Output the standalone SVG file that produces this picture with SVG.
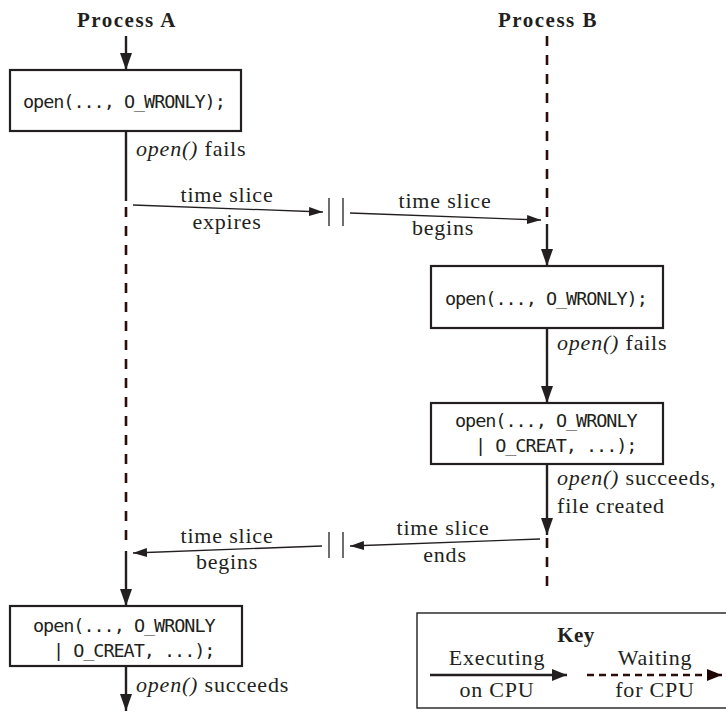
<svg xmlns="http://www.w3.org/2000/svg" width="726" height="712" viewBox="0 0 726 712">
  <defs>
    <marker id="headDown" markerUnits="userSpaceOnUse" markerWidth="17" markerHeight="12" refX="17" refY="6" orient="auto" viewBox="0 0 17 12">
      <path d="M0,0 L17,6 L0,12 z" fill="#231f20"/>
    </marker>
    <marker id="thin" markerUnits="userSpaceOnUse" markerWidth="14" markerHeight="9" refX="14" refY="4.5" orient="auto" viewBox="0 0 14 9">
      <path d="M0,0 L14,4.5 L0,9 z" fill="#231f20"/>
    </marker>
    <marker id="keyHead" markerUnits="userSpaceOnUse" markerWidth="15" markerHeight="12" refX="15" refY="6" orient="auto" viewBox="0 0 15 12">
      <path d="M0,0 L15,6 L0,12 z" fill="#231f20"/>
    </marker>
    <marker id="keyHeadDash" markerUnits="userSpaceOnUse" markerWidth="15" markerHeight="12" refX="15" refY="6" orient="auto" viewBox="0 0 15 12">
      <path d="M0,0 L15,6 L0,12 z" fill="#1e0505"/>
    </marker>
  </defs>
  <style>
    .serif { font-family: "Liberation Serif", "Times New Roman", serif; font-size: 22px; fill: #231f20; letter-spacing: 0.8px; }
    .title { font-family: "Liberation Serif", "Times New Roman", serif; font-size: 21px; font-weight: bold; fill: #231f20; letter-spacing: 1.5px; }
    .mono { font-family: "DejaVu Sans Mono", "Liberation Mono", monospace; font-size: 18.5px; fill: #231f20; letter-spacing: -1.05px; }
    .it { font-style: italic; }
    .box { fill: #ffffff; stroke: #231f20; stroke-width: 2.2; }
    .exec { fill: none; stroke: #231f20; stroke-width: 2.4; }
    .wait { fill: none; stroke: #2d0c0c; stroke-width: 2.6; stroke-dasharray: 10 9; }
    .slice { fill: none; stroke: #231f20; stroke-width: 1.3; }
    .bar { fill: none; stroke: #231f20; stroke-width: 1.3; }
  </style>

  <!-- Titles -->
  <g id="title-a"><text class="title" x="127" y="27" text-anchor="middle">Process A</text></g>
  <g id="title-b"><text class="title" x="548" y="27" text-anchor="middle">Process B</text></g>

  <!-- Connectors -->
  <g id="connectors">
    <!-- Process A -->
    <line class="exec" x1="126" y1="36" x2="126" y2="70" marker-end="url(#headDown)"/>
    <line class="exec" x1="126" y1="131" x2="126" y2="201"/>
    <line class="wait" x1="126" y1="207" x2="126" y2="548"/>
    <line class="exec" x1="126" y1="551" x2="126" y2="606" marker-end="url(#headDown)"/>
    <line class="exec" x1="126" y1="666" x2="126" y2="711" marker-end="url(#headDown)"/>

    <!-- Process B -->
    <line class="wait" x1="547" y1="36" x2="547" y2="218"/>
    <line class="exec" x1="547" y1="224" x2="547" y2="266" marker-end="url(#headDown)"/>
    <line class="exec" x1="547" y1="328" x2="547" y2="403" marker-end="url(#headDown)"/>
    <line class="exec" x1="547" y1="464" x2="547" y2="535" marker-end="url(#headDown)"/>
    <line class="wait" x1="547" y1="538" x2="547" y2="586"/>

    <!-- time slice expires / begins (A to B) -->
    <line class="slice" x1="133" y1="205" x2="323" y2="212" marker-end="url(#thin)"/>
    <line class="bar" x1="329" y1="198" x2="329" y2="226"/>
    <line class="bar" x1="343" y1="198" x2="343" y2="226"/>
    <line class="slice" x1="350" y1="213" x2="541" y2="220" marker-end="url(#thin)"/>

    <!-- time slice ends / begins (B to A) -->
    <line class="slice" x1="540" y1="539" x2="350" y2="546" marker-end="url(#thin)"/>
    <line class="bar" x1="329" y1="532" x2="329" y2="558"/>
    <line class="bar" x1="343" y1="532" x2="343" y2="558"/>
    <line class="slice" x1="322" y1="546" x2="133" y2="553" marker-end="url(#thin)"/>
  </g>

  <!-- Node boxes -->
  <g id="a-open1">
    <rect class="box" x="10" y="70" width="231" height="61"/>
    <text class="mono" x="23" y="108">open(..., O_WRONLY);</text>
  </g>
  <g id="b-open1">
    <rect class="box" x="431" y="266" width="232" height="62"/>
    <text class="mono" x="445" y="305">open(..., O_WRONLY);</text>
  </g>
  <g id="b-open2">
    <rect class="box" x="431" y="403" width="232" height="61"/>
    <text class="mono" x="455" y="427">open(..., O_WRONLY</text>
    <text class="mono" x="475" y="452">| O_CREAT, ...);</text>
  </g>
  <g id="a-open2">
    <rect class="box" x="10" y="606" width="232" height="60"/>
    <text class="mono" x="33" y="632">open(..., O_WRONLY</text>
    <text class="mono" x="53" y="657">| O_CREAT, ...);</text>
  </g>

  <!-- Labels -->
  <g id="labels">
    <text class="serif" x="136" y="156"><tspan class="it">open()</tspan> fails</text>
    <text class="serif" x="227" y="202" text-anchor="middle">time slice</text>
    <text class="serif" x="227" y="229" text-anchor="middle">expires</text>
    <text class="serif" x="445" y="208" text-anchor="middle">time slice</text>
    <text class="serif" x="443" y="235" text-anchor="middle">begins</text>
    <text class="serif" x="557" y="350"><tspan class="it">open()</tspan> fails</text>
    <text class="serif" x="557" y="485"><tspan class="it">open()</tspan> succeeds,</text>
    <text class="serif" x="557" y="513">file created</text>
    <text class="serif" x="443" y="535" text-anchor="middle">time slice</text>
    <text class="serif" x="445" y="562" text-anchor="middle">ends</text>
    <text class="serif" x="227" y="543" text-anchor="middle">time slice</text>
    <text class="serif" x="227" y="569" text-anchor="middle">begins</text>
    <text class="serif" x="136" y="692"><tspan class="it">open()</tspan> succeeds</text>
  </g>

  <!-- Key -->
  <g id="key">
    <rect x="417" y="613" width="320" height="95" fill="#ffffff" stroke="#231f20" stroke-width="1.4"/>
    <text class="title" x="576" y="642" text-anchor="middle" style="letter-spacing:0.5px">Key</text>
    <text class="serif" x="497" y="665" text-anchor="middle">Executing</text>
    <text class="serif" x="497" y="697" text-anchor="middle">on CPU</text>
    <text class="serif" x="655" y="665" text-anchor="middle">Waiting</text>
    <text class="serif" x="655" y="697" text-anchor="middle">for CPU</text>
    <line x1="430" y1="675" x2="567" y2="675" stroke="#231f20" stroke-width="2.4" marker-end="url(#keyHead)"/>
    <line x1="587" y1="675" x2="722" y2="675" stroke="#2d0c0c" stroke-width="2.4" stroke-dasharray="7 5" marker-end="url(#keyHeadDash)"/>
  </g>
</svg>
